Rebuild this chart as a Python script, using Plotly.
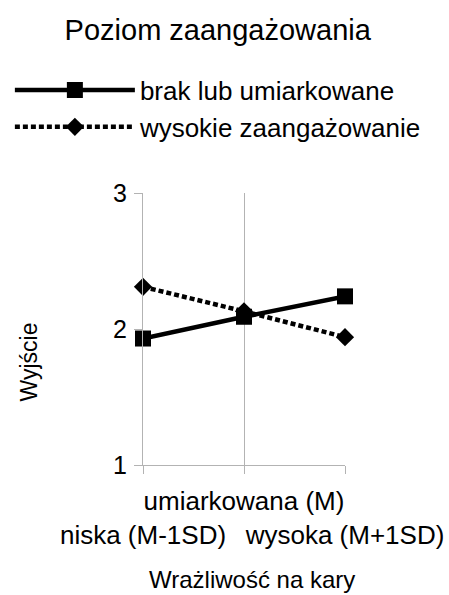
import plotly.graph_objects as go

# Interaction plot: outcome by punishment sensitivity, split by engagement level
categories = ["niska (M-1SD)", "umiarkowana (M)", "wysoka (M+1SD)"]
tick_labels = ["<br>niska (M-1SD)", "umiarkowana (M)", "<br>wysoka (M+1SD)"]
series_names = ["brak lub umiarkowane", "wysokie zaangażowanie"]
low_engagement = [1.93, 2.09, 2.24]
high_engagement = [2.31, 2.13, 1.94]
y_ticks = [1, 2, 3]

FONT = "Liberation Sans, Arial, sans-serif"
x_pos = list(range(len(categories)))

fig = go.Figure()
# dotted series drawn first so the solid squares sit on top
fig.add_trace(go.Scatter(
    x=x_pos, y=high_engagement, name=series_names[1], mode="lines+markers",
    line=dict(color="black", width=4.5, dash="5px,3px"),
    marker=dict(symbol="diamond", size=14, color="black"),
    cliponaxis=False, legendrank=2,
))
fig.add_trace(go.Scatter(
    x=x_pos, y=low_engagement, name=series_names[0], mode="lines+markers",
    line=dict(color="black", width=4.5),
    marker=dict(symbol="square", size=16, color="black"),
    cliponaxis=False, legendrank=1,
))

fig.update_layout(
    width=449, height=595,
    margin=dict(l=143, r=104, t=193, b=130, autoexpand=False),
    paper_bgcolor="white", plot_bgcolor="white",
    font=dict(family=FONT, color="black"),
    title=dict(text="Poziom zaangażowania", x=0.485, xanchor="center",
               y=0.95, yanchor="middle", font=dict(size=29)),
    legend=dict(xref="container", yref="container", x=0.022, y=0.888,
                xanchor="left", yanchor="top", itemwidth=120,
                font=dict(size=26), tracegroupgap=0,
                bgcolor="rgba(0,0,0,0)"),
    showlegend=True,
    annotations=[
        dict(text="Wrażliwość na kary", xref="paper", yref="paper",
             x=0.54, y=-0.42, xanchor="center", yanchor="middle",
             showarrow=False, font=dict(size=24)),
        dict(text="Wyjście", xref="paper", yref="paper",
             x=-0.565, y=0.38, xanchor="center", yanchor="middle",
             textangle=-90, showarrow=False, font=dict(size=23)),
    ],
)
fig.update_xaxes(
    range=[0, 2], tickvals=x_pos, ticktext=tick_labels, tickangle=0,
    showgrid=True, gridcolor="#b3b3b3", gridwidth=1,
    showline=True, linecolor="#b3b3b3", linewidth=1,
    ticks="outside", ticklen=8, tickcolor="#b3b3b3",
    tickfont=dict(size=26), ticklabelstandoff=5,
    zeroline=False, automargin=False,
)
fig.update_yaxes(
    range=[1, 3], tickvals=y_ticks, showgrid=False,
    showline=True, linecolor="#b3b3b3", linewidth=1,
    ticks="outside", ticklen=8, tickcolor="#b3b3b3",
    tickfont=dict(size=25), ticklabelstandoff=2,
    zeroline=False, automargin=False,
)

fig.write_html("out.html")
